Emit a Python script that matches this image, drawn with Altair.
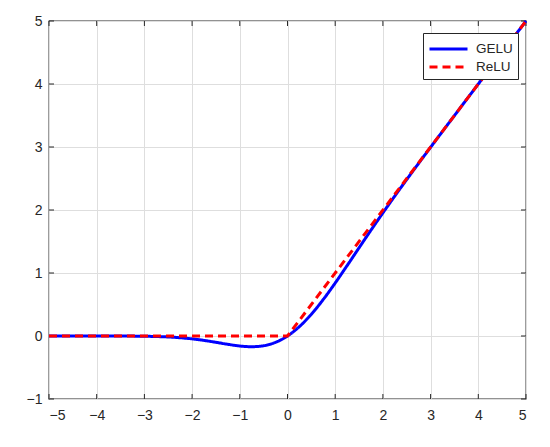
import altair as alt
import pandas as pd

# GELU curve
gelu_x = [-5, -4, -3.5, -3, -2.75, -2.5, -2.25, -2, -1.75, -1.5, -1.25, -1, -0.75, -0.5, -0.25,
          0, 0.25, 0.5, 0.75, 1, 1.25, 1.5, 1.75, 2, 2.25, 2.5, 2.75, 3, 3.5, 4, 5]
gelu_y = [0.0, -0.0001, -0.0008, -0.004, -0.0082, -0.0155, -0.0274, -0.0455, -0.0701, -0.1002, -0.132,
          -0.1587, -0.170, -0.1543, -0.1003, 0.0, 0.1497, 0.3457, 0.580, 0.8413, 1.118, 1.3998, 1.680,
          1.9545, 2.2226, 2.4845, 2.7418, 2.996, 3.4992, 3.9999, 5.0]
# ReLU
relu_x = [-5, 0, 5]
relu_y = [0, 0, 5]

series = ["GELU", "ReLU"]
colors = ["#0000ff", "#ff0000"]
xticks = [-5, -4, -3, -2, -1, 0, 1, 2, 3, 4, 5]
yticks = [-1, 0, 1, 2, 3, 4, 5]

gdf = pd.DataFrame({"x": gelu_x, "y": gelu_y, "s": "GELU"})
rdf = pd.DataFrame({"x": relu_x, "y": relu_y, "s": "ReLU"})
xt = pd.DataFrame({"v": xticks})
yt = pd.DataFrame({"v": yticks})

W, H = 477, 378
axcol = "#262626"
xscale = alt.Scale(domain=[-5, 5], nice=False, zero=False)
yscale = alt.Scale(domain=[-1, 5], nice=False, zero=False)

axis_common = dict(grid=True, gridColor="#dedede", gridWidth=1, domain=False, ticks=False,
                   labelFont="Liberation Sans", labelFontSize=14, labelColor=axcol, title=None,
                   format="d")

leg = alt.Legend(title=None, orient="none", legendX=374, legendY=12,
                 symbolType="M-1,0H3", symbolSize=361, symbolStrokeWidth=3,
                 fillColor="white", strokeColor=axcol, padding=5,
                 labelFont="Liberation Sans", labelFontSize=13.5, labelColor=axcol,
                 rowPadding=0, labelOffset=26, cornerRadius=0)

enc = dict(
    x=alt.X("x:Q", scale=xscale, axis=alt.Axis(values=xticks, labelPadding=9, **axis_common)),
    y=alt.Y("y:Q", scale=yscale, axis=alt.Axis(values=yticks, labelPadding=7, **axis_common)),
    color=alt.Color("s:N", scale=alt.Scale(domain=series, range=colors), legend=leg),
    strokeDash=alt.StrokeDash("s:N", scale=alt.Scale(domain=series, range=[[1, 0], [8, 5]]), legend=leg),
)

gelu = alt.Chart(gdf).mark_line(strokeWidth=3, interpolate="monotone").encode(**enc)
relu = alt.Chart(rdf).mark_line(strokeWidth=3).encode(**enc)

tk = 5
xb = alt.Chart(xt).mark_rule(color=axcol, strokeWidth=1).encode(
    x=alt.X("v:Q", scale=xscale), y=alt.value(H), y2=alt.value(H - tk))
xtp = alt.Chart(xt).mark_rule(color=axcol, strokeWidth=1).encode(
    x=alt.X("v:Q", scale=xscale), y=alt.value(0), y2=alt.value(tk))
yl = alt.Chart(yt).mark_rule(color=axcol, strokeWidth=1).encode(
    y=alt.Y("v:Q", scale=yscale), x=alt.value(0), x2=alt.value(tk))
yr = alt.Chart(yt).mark_rule(color=axcol, strokeWidth=1).encode(
    y=alt.Y("v:Q", scale=yscale), x=alt.value(W), x2=alt.value(W - tk))

chart = alt.layer(xb, xtp, yl, yr, gelu, relu).properties(
    width=W, height=H,
    autosize=alt.AutoSizeParams(type="none"),
    padding={"left": 41, "top": 13, "right": 16, "bottom": 40},
    background="white",
).configure_view(stroke=axcol, strokeWidth=1.3)

chart.save("out.html", embed_options={"renderer": "svg", "actions": False})
